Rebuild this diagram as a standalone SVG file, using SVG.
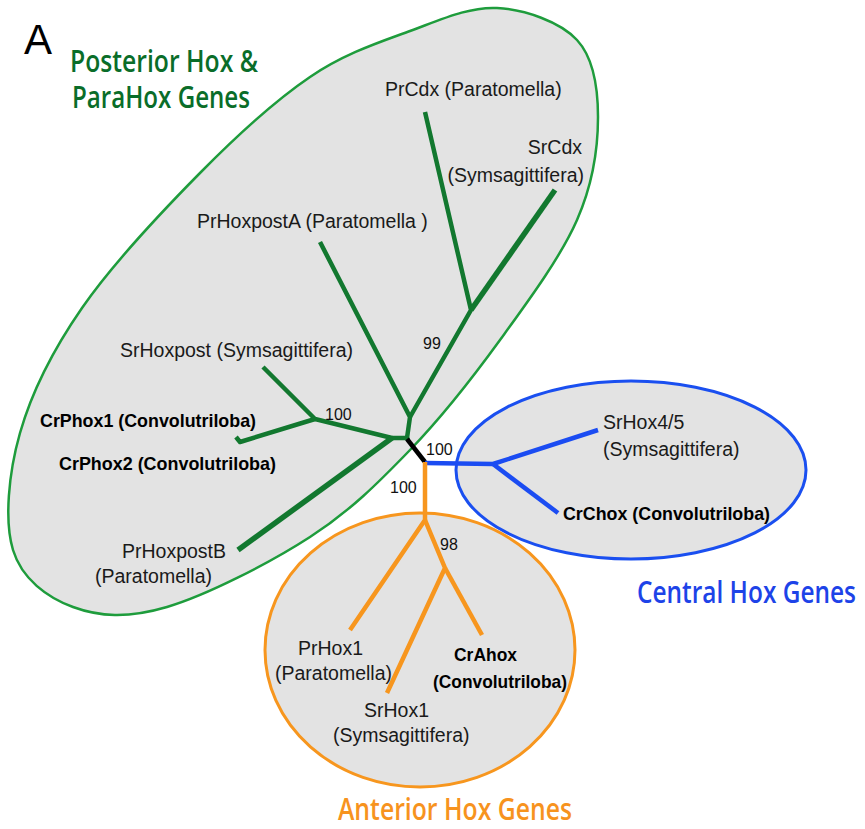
<svg xmlns="http://www.w3.org/2000/svg" width="865" height="829" viewBox="0 0 865 829">
<style>
.lbl{font-family:"Liberation Sans",Arial,sans-serif;font-size:19.5px;fill:#1a1a1a}
.bold{font-family:"Liberation Sans",Arial,sans-serif;font-size:19px;font-weight:bold;fill:#000}
.num{font-family:"Liberation Sans",Arial,sans-serif;font-size:16px;fill:#111}
.title{font-family:"Open Sans","Liberation Sans",sans-serif;font-weight:600;font-size:31px}
.g{stroke:#12782f;stroke-width:4.5;fill:none;stroke-linecap:butt;stroke-linejoin:round}
.b{stroke:#1b4cf2;stroke-width:4.5;fill:none;stroke-linejoin:round}
.o{stroke:#f7961e;stroke-width:4.5;fill:none;stroke-linejoin:round}
</style>
<rect width="865" height="829" fill="#fff"/>
<g id="clade-posterior">
<path d="M497,8 C524.8,9.5 560.2,21.8 577,40 C593.8,58.2 598,87 598,117 C598,147 593.3,182.8 577,220 C560.7,257.2 527.8,301.7 500,340 C472.2,378.3 441.7,417.2 410,450 C378.3,482.8 350.5,510.8 310,537 C269.5,563.2 206.5,595.3 167,607 C127.5,618.7 98.7,616.5 73,607 C47.3,597.5 21.8,579 13,550 C4.2,521 8.5,473.3 20,433 C31.5,392.7 52,351.3 82,308 C112,264.7 162,211.5 200,173 C238,134.5 275,100.7 310,77 C345,53.3 378.8,42.5 410,31 C441.2,19.5 469.2,6.5 497,8 Z" fill="#e3e3e3" stroke="#1e9c3c" stroke-width="2.5"/>
</g>
<g id="clade-central">
<ellipse cx="631" cy="470" rx="175" ry="89" fill="#e3e3e3" stroke="#1a4ff0" stroke-width="3"/>
</g>
<g id="clade-anterior">
<ellipse cx="420" cy="650" rx="155" ry="137" fill="#e3e3e3" stroke="#f7961e" stroke-width="3"/>
</g>
<g id="connectors">
<path class="g" d="M408,440 L407,438 L392,438"/>
<path class="g" d="M407,438 L410,417 L320,242"/>
<path class="g" d="M410,417 L471,310 L425,112"/>
<path class="g" d="M471,310 L555,190" style="stroke-width:5.5"/>
<path class="g" d="M392,438 L315,419 L263,367"/>
<path class="g" d="M315,419 L240,442 L236,437"/>
<path class="g" d="M392,438 L238,550" style="stroke-width:5.5"/>
<path d="M407,439 L425,462" stroke="#000" stroke-width="4.5"/>
<path class="b" d="M425,463 L493,464 L598,430"/>
<path class="b" d="M493,464 L558,513"/>
<path class="o" d="M425,462 L425,520 L350,630"/>
<path class="o" d="M425,520 L445,568 L387,693"/>
<path class="o" d="M445,568 L482,635"/>
</g>
<g id="panel-label"><text x="24" y="54" font-family="'Liberation Sans',Arial,sans-serif" font-size="42" fill="#000">A</text></g>
<g id="title-posterior" fill="#0a6d29">
<text class="title" x="70" y="72" textLength="188" lengthAdjust="spacingAndGlyphs">Posterior Hox &amp;</text>
<text class="title" x="72" y="108" textLength="178" lengthAdjust="spacingAndGlyphs">ParaHox Genes</text>
</g>
<g id="title-central" fill="#1d43e8"><text class="title" x="637" y="603" textLength="219" lengthAdjust="spacingAndGlyphs">Central Hox Genes</text></g>
<g id="title-anterior" fill="#f7931e"><text class="title" x="338" y="820" textLength="234" lengthAdjust="spacingAndGlyphs">Anterior Hox Genes</text></g>
<g id="PrCdx"><text class="lbl" x="385" y="96">PrCdx (Paratomella)</text></g>
<g id="SrCdx"><text class="lbl" x="582" y="154" text-anchor="end">SrCdx</text><text class="lbl" x="584" y="182" text-anchor="end">(Symsagittifera)</text></g>
<g id="PrHoxpostA"><text class="lbl" x="197" y="228">PrHoxpostA (Paratomella )</text></g>
<g id="SrHoxpost"><text class="lbl" x="120" y="357">SrHoxpost (Symsagittifera)</text></g>
<g id="CrPhox1"><text class="bold" x="40" y="427" textLength="216" lengthAdjust="spacingAndGlyphs">CrPhox1 (Convolutriloba)</text></g>
<g id="CrPhox2"><text class="bold" x="59" y="470" textLength="217" lengthAdjust="spacingAndGlyphs">CrPhox2 (Convolutriloba)</text></g>
<g id="PrHoxpostB"><text class="lbl" x="122" y="558">PrHoxpostB</text><text class="lbl" x="95" y="583">(Paratomella)</text></g>
<g id="SrHox45"><text class="lbl" x="603" y="429">SrHox4/5</text><text class="lbl" x="603" y="456">(Symsagittifera)</text></g>
<g id="CrChox"><text class="bold" x="563" y="520" textLength="207" lengthAdjust="spacingAndGlyphs">CrChox (Convolutriloba)</text></g>
<g id="PrHox1"><text class="lbl" x="298" y="655">PrHox1</text><text class="lbl" x="275" y="680">(Paratomella)</text></g>
<g id="CrAhox"><text class="bold" x="454" y="661" textLength="63" lengthAdjust="spacingAndGlyphs">CrAhox</text><text class="bold" x="433" y="688" textLength="134" lengthAdjust="spacingAndGlyphs">(Convolutriloba)</text></g>
<g id="SrHox1"><text class="lbl" x="364" y="717">SrHox1</text><text class="lbl" x="333" y="742">(Symsagittifera)</text></g>
<g id="support">
<text class="num" x="423" y="349">99</text>
<text class="num" x="325" y="420">100</text>
<text class="num" x="426" y="455">100</text>
<text class="num" x="390" y="493">100</text>
<text class="num" x="440" y="550">98</text>
</g>
</svg>
